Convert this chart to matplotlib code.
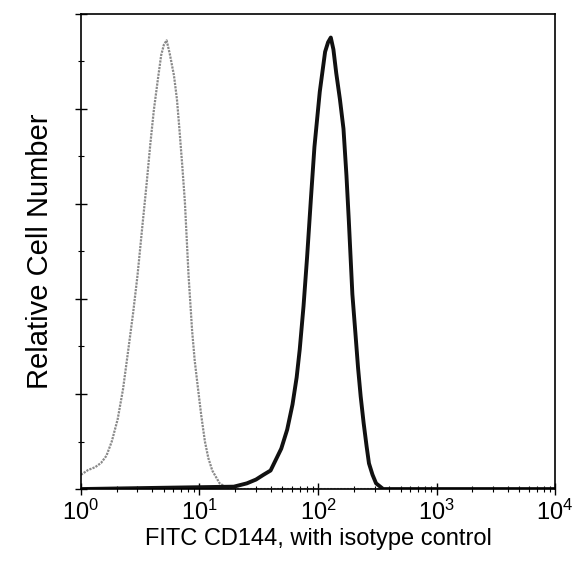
import numpy as np
import matplotlib
matplotlib.use('Agg')
import matplotlib.pyplot as plt
from matplotlib.ticker import LogLocator, FixedLocator, NullFormatter

plt.rcParams['font.family'] = ['Liberation Sans', 'DejaVu Sans']
plt.rcParams['mathtext.fontset'] = 'custom'
plt.rcParams['mathtext.rm'] = 'Liberation Sans'
plt.rcParams['mathtext.it'] = 'Liberation Sans'

# isotype control (grey), log10 fluorescence vs relative count
iso_logx = [0.0, 0.06, 0.12, 0.17, 0.215, 0.26, 0.31, 0.355, 0.40, 0.44, 0.477, 0.515, 0.554, 0.585, 0.615, 0.648, 0.677, 0.70, 0.723,
            0.75, 0.785, 0.81, 0.83, 0.855, 0.877, 0.908, 0.938, 0.96, 0.985, 1.015, 1.046, 1.075, 1.108, 1.17, 1.23, 1.3, 4.0]
iso_y = [0.03, 0.04, 0.046, 0.055, 0.07, 0.10, 0.147, 0.21, 0.294, 0.37, 0.449, 0.545, 0.642, 0.725, 0.797, 0.86, 0.913, 0.935, 0.944,
         0.915, 0.87, 0.82, 0.76, 0.68, 0.604, 0.449, 0.333, 0.27, 0.217, 0.155, 0.10, 0.065, 0.039, 0.012, 0.003, 0.0, 0.0]
# FITC CD144 (black)
cd_logx = [0.0, 1.29, 1.40, 1.477, 1.54, 1.6, 1.69, 1.74, 1.785, 1.82, 1.846, 1.878, 1.908, 1.94, 1.97, 2.015, 2.06, 2.085, 2.108, 2.13,
           2.154, 2.185, 2.215, 2.24, 2.26, 2.29, 2.315, 2.338, 2.36, 2.385, 2.41, 2.43, 2.46, 2.49, 2.55, 4.0]
cd_y = [0.0, 0.005, 0.012, 0.02, 0.03, 0.039, 0.085, 0.125, 0.178, 0.235, 0.294, 0.385, 0.488, 0.61, 0.72, 0.836, 0.92, 0.94, 0.95, 0.925,
        0.875, 0.82, 0.758, 0.66, 0.565, 0.41, 0.33, 0.255, 0.195, 0.139, 0.09, 0.054, 0.03, 0.012, 0.0, 0.0]

fig = plt.figure(figsize=(5.74, 5.74), dpi=100)
ax = fig.add_axes([0.141, 0.148, 0.826, 0.828])
ax.plot(10 ** np.array(iso_logx), iso_y, color='#8a8a8a', lw=1.6, ls=(0, (1, 0.5)))
ax.plot(10 ** np.array(cd_logx), cd_y, color='#111111', lw=2.8)
ax.set_xscale('log')
ax.set_xlim(1, 1e4)
ax.set_ylim(0, 1.0)
ax.set_xticks([1, 10, 100, 1000, 10000])
ax.set_xticklabels(['$10^{0}$', '$10^{1}$', '$10^{2}$', '$10^{3}$', '$10^{4}$'], fontsize=17)
ax.xaxis.set_minor_locator(LogLocator(base=10, subs=np.arange(2, 10)))
ax.xaxis.set_minor_formatter(NullFormatter())
ax.yaxis.set_major_locator(FixedLocator([0, 0.2, 0.4, 0.6, 0.8, 1.0]))
ax.yaxis.set_minor_locator(FixedLocator([0.1, 0.3, 0.5, 0.7, 0.9]))
ax.set_yticklabels([])
ax.tick_params(which='major', direction='inout', length=8, width=1)
ax.tick_params(which='minor', direction='inout', length=4, width=0.8)
ax.tick_params(axis='x', pad=4)
for s in ax.spines.values():
    s.set_linewidth(1.2)
ax.set_xlabel('FITC CD144, with isotype control', fontsize=17, labelpad=2)
ax.set_ylabel('Relative Cell Number', fontsize=21, labelpad=12)
fig.savefig('out.png', dpi=100)
